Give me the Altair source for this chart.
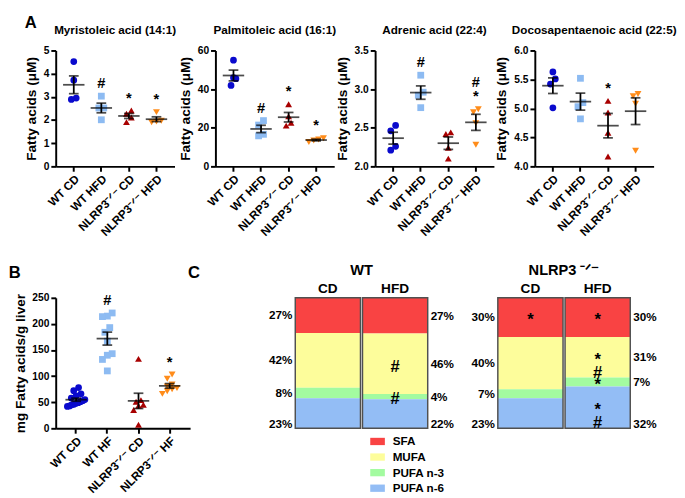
import altair as alt
import pandas as pd

SUP = "⁻ᐟ⁻"
groups_a = ["WT CD", "WT HFD", f"NLRP3{SUP} CD", f"NLRP3{SUP} HFD"]
groups_b = ["WT CD", "WT HF", f"NLRP3{SUP} CD", f"NLRP3{SUP} HF"]
group_colors = ["#0A0ACD", "#8DBBF2", "#A80000", "#FF8C1A"]
group_shapes = ["circle", "square", "triangle-up", "triangle-down"]
panel_letters = ["A", "B", "C"]

# Myristoleic acid (14:1)
myr_wt_cd = [4.52, 3.72, 2.95, 2.89]
myr_wt_hfd = [3.03, 2.52, 2.52, 2.01]
myr_ko_cd = [2.41, 2.27, 2.11, 1.91]
myr_ko_hfd = [2.34, 1.97, 1.93, 1.90]
myr_sig = ["", "#", "*", "*"]
myr_ticks = [0, 1, 2, 3, 4, 5]

# Palmitoleic acid (16:1)
pal_wt_cd = [55.0, 45.9, 45.4, 41.9]
pal_wt_hfd = [23.7, 21.4, 16.6, 15.8]
pal_ko_cd = [32.2, 25.9, 22.6, 21.1]
pal_ko_hfd = [14.6, 13.9, 13.4, 12.6]
pal_sig = ["", "#", "*", "*"]
pal_ticks = [0, 20, 40, 60]

# Adrenic acid (22:4)
adr_wt_cd = [2.53, 2.46, 2.26, 2.21]
adr_wt_hfd = [3.18, 2.96, 2.92, 2.76]
adr_ko_cd = [2.44, 2.42, 2.24, 2.10]
adr_ko_hfd = [2.74, 2.70, 2.56, 2.28]
adr_sig = ["", "#", "", "#\n*"]
adr_ticks = [2.0, 2.5, 3.0, 3.5]

# Docosapentaenoic acid (22:5)
dpa_wt_cd = [5.63, 5.51, 5.42, 5.01]
dpa_wt_hfd = [5.52, 5.10, 5.03, 4.82]
dpa_ko_cd = [5.13, 4.93, 4.58, 4.17]
dpa_ko_hfd = [5.25, 5.21, 5.08, 4.27]
dpa_sig = ["", "", "*", ""]
dpa_ticks = [4.0, 4.5, 5.0, 5.5, 6.0]

# B: mg fatty acids / g liver
liv_wt_cd = [78, 72, 66, 62, 58, 55, 53, 51, 49, 48, 46, 45, 43, 42]
liv_wt_hf = [221, 215, 214, 193, 184, 167, 143, 140, 132, 110]
liv_ko_cd = [133, 54, 51, 45, 43, 35, 7]
liv_ko_hf = [103, 95, 84, 80, 77, 75, 71, 66]
liv_sig = ["", "#", "", "*"]
liv_ticks = [0, 50, 100, 150, 200, 250]

# C: fatty acid composition (%)
fa_classes = ["SFA", "MUFA", "PUFA n-3", "PUFA n-6"]
fa_colors = ["#F94343", "#FDFD9B", "#A3FBA0", "#93BDF5"]
diets = ["CD", "HFD"]
wt_cd_pct = [27, 42, 8, 23]
wt_hfd_pct = [27, 46, 4, 22]
ko_cd_pct = [30, 40, 7, 23]
ko_hfd_pct = [30, 31, 7, 32]
wt_cd_sig = ["", "", "", ""]
wt_hfd_sig = ["", "#", "#", ""]
ko_cd_sig = ["*", "", "", ""]
ko_hfd_sig = ["*", "*\n#", "*", "*\n#"]

FONT = "Liberation Sans"


def swarm(values, ppu, row_px=7.0, step_px=5.0, max_half=9.0):
    """Spread points that would overlap (simple dot-plot layout)."""
    order = sorted(range(len(values)), key=lambda i: values[i])
    offs = [0.0] * len(values)
    rows, cur, start = [], [], None
    for i in order:
        p = values[i] * ppu
        if cur and p - start < row_px:
            cur.append(i)
        else:
            if cur:
                rows.append(cur)
            cur, start = [i], p
    if cur:
        rows.append(cur)
    for r in rows:
        n = len(r)
        step = step_px if n <= 1 else min(step_px, 2 * max_half / (n - 1))
        for k, i in enumerate(r):
            offs[i] = (k - (n - 1) / 2) * step
    return offs


def letter_layer(letter, x, y):
    return alt.Chart(pd.DataFrame({"t": [letter]})).mark_text(
        fontSize=17, fontWeight="bold", align="center", baseline="middle", color="black"
    ).encode(text="t:N", x=alt.value(x), y=alt.value(y))


def scatter_panel(title, groups, series, sig, ydom, yticks, yfmt, ytitle, w, h, letters=()):
    ppu = h / (ydom[1] - ydom[0])
    rows = []
    for gi, (g, vals, s) in enumerate(zip(groups, series, sig)):
        offs = swarm(vals, ppu)
        for v, o in zip(vals, offs):
            rows.append(dict(group=g, gid=gi, value=v, off=o, sig=s))
    df = pd.DataFrame(rows)
    po = 0.155
    step = w / (len(groups) + 2 * po)
    xaxis = alt.Axis(title=None, labelAngle=-45, labelFontSize=12, labelFontWeight="bold",
                     labelColor="black", domainWidth=2, domainColor="black", tickWidth=2,
                     tickColor="black", tickSize=5, labelPadding=2)
    xenc = alt.X("group:N", sort=groups, scale=alt.Scale(paddingInner=0, paddingOuter=po), axis=xaxis)
    yscale = alt.Scale(domain=ydom, nice=False, zero=False, padding=0)
    yaxis = alt.Axis(values=yticks, format=yfmt, title=ytitle, titleFontSize=14, titleFontWeight="bold",
                     titleColor="black", labelFontSize=10.5, labelFontWeight="bold", labelColor="black",
                     domainWidth=2, domainColor="black", tickWidth=2, tickColor="black", tickSize=5,
                     labelPadding=2, titlePadding=5, grid=False)

    def Y(field):
        return alt.Y(field, scale=yscale, axis=yaxis)

    base = alt.Chart(df)
    pts = base.mark_point(filled=True, opacity=1, strokeWidth=0).encode(
        x=xenc,
        xOffset=alt.XOffset("off:Q", scale=alt.Scale(domain=[-step / 2, step / 2])),
        y=Y("value:Q"),
        color=alt.Color("gid:N", scale=alt.Scale(domain=[0, 1, 2, 3], range=group_colors), legend=None),
        shape=alt.Shape("gid:N", scale=alt.Scale(domain=[0, 1, 2, 3], range=group_shapes), legend=None),
        size=alt.Size("gid:O", scale=alt.Scale(domain=[0, 1, 2, 3], range=[48, 50, 60, 60]), legend=None),
    )
    stats = base.transform_aggregate(
        m="mean(value)", se="stderr(value)", mx="max(value)", groupby=["group", "sig"]
    ).transform_calculate(
        lo="datum.m - datum.se", hi="datum.m + datum.se",
        s_lo="peek(split(datum.sig, '\\n'))",
        s_hi="length(split(datum.sig, '\\n')) > 1 ? split(datum.sig, '\\n')[0] : ''",
    )
    rule = stats.mark_rule(color="black", strokeWidth=1.8).encode(x=xenc, y=Y("lo:Q"), y2="hi:Q")
    lo_t = stats.mark_tick(color="black", thickness=1.8, size=10).encode(x=xenc, y=Y("lo:Q"))
    hi_t = stats.mark_tick(color="black", thickness=1.8, size=10).encode(x=xenc, y=Y("hi:Q"))
    mean_t = stats.mark_tick(color="black", thickness=1.8, size=22).encode(x=xenc, y=Y("m:Q"))
    sig_lo = stats.transform_filter("datum.s_lo != ''").mark_text(
        fontSize=15, fontWeight="bold", baseline="bottom", dy=-5, color="black"
    ).encode(x=xenc, y=Y("mx:Q"), text="s_lo:N")
    sig_hi = stats.transform_filter("datum.s_hi != ''").mark_text(
        fontSize=15, fontWeight="bold", baseline="bottom", dy=-20, color="black"
    ).encode(x=xenc, y=Y("mx:Q"), text="s_hi:N")
    layers = [pts, rule, lo_t, hi_t, mean_t, sig_lo, sig_hi]
    for lt in letters:
        layers.append(letter_layer(*lt))
    ch = alt.layer(*layers).properties(width=w, height=h)
    if title:
        ch = ch.properties(title=alt.TitleParams(title, fontSize=12, fontWeight="bold", color="black",
                                                 frame="group", offset=9))
    return ch


def fa_panel(title, pcts, sigs, w, h, legend):
    rows = []
    for diet, pc, sg in zip(diets, pcts, sigs):
        for k, (c, p, s) in enumerate(zip(fa_classes, pc, sg)):
            rows.append(dict(diet=diet, cls=c, ord=k, pct=p, sig=s, label=f"{p}%"))
    df = pd.DataFrame(rows)
    col_expr = "[" + ",".join(f"'{c}'" for c in fa_colors) + "][datum.ord]"
    base = alt.Chart(df).transform_stack(
        stack="pct", groupby=["diet"], as_=["y0", "y1"], offset="normalize",
        sort=[alt.SortField("ord", order="ascending")]
    ).transform_calculate(
        mid="(datum.y0 + datum.y1) / 2",
        laby="datum.ord == 3 ? datum.y1 - 0.03 : (datum.y0 + datum.y1) / 2",
        col=col_expr,
    )
    p_in = 0.03
    bandw = w / (len(diets) - p_in) * (1 - p_in)
    yscale = alt.Scale(domain=[0, 1], reverse=True, nice=False, zero=False, padding=0)
    xaxis = alt.Axis(orient="top", title=None, domain=False, ticks=False, labelAngle=0,
                     labelFontSize=14, labelFontWeight="bold", labelColor="black", labelPadding=2)
    xscale = alt.Scale(paddingInner=p_in, paddingOuter=0)

    def X(bp=None):
        if bp is None:
            return alt.X("diet:N", sort=diets, scale=xscale, axis=xaxis)
        return alt.X("diet:N", sort=diets, scale=xscale, axis=xaxis, bandPosition=bp)

    if legend is not None:
        fill = alt.Fill("cls:N", sort=fa_classes, scale=alt.Scale(domain=fa_classes, range=fa_colors),
                        legend=legend)
    else:
        fill = alt.Fill("col:N", scale=None)
    bars = base.mark_rect(strokeWidth=0, width=bandw).encode(
        x=X(), y=alt.Y("y0:Q", scale=yscale, axis=None), y2="y1:Q", fill=fill,
    )
    outline = base.transform_aggregate(lo="min(y0)", hi="max(y1)", groupby=["diet"]).mark_rect(
        fillOpacity=0, stroke="#505050", strokeWidth=1.5, width=bandw
    ).encode(x=X(), y=alt.Y("lo:Q", scale=yscale, axis=None), y2="hi:Q")
    lab_l = base.transform_filter("datum.diet == 'CD'").mark_text(
        align="right", baseline="middle", dx=-3, fontSize=12, fontWeight="bold", color="black"
    ).encode(x=X(0), y=alt.Y("laby:Q", scale=yscale, axis=None), text="label:N")
    lab_r = base.transform_filter("datum.diet == 'HFD'").mark_text(
        align="left", baseline="middle", dx=3, fontSize=12, fontWeight="bold", color="black"
    ).encode(x=X(1), y=alt.Y("laby:Q", scale=yscale, axis=None), text="label:N")
    sig_t = base.transform_filter("datum.sig != ''").mark_text(
        align="center", baseline="middle", fontSize=17, fontWeight="bold", lineBreak="\n",
        lineHeight=13, color="black", dy=3
    ).encode(x=X(0.5), y=alt.Y("mid:Q", scale=yscale, axis=None), text="sig:N")
    return alt.layer(bars, outline, lab_l, lab_r, sig_t).properties(
        width=w, height=h,
        title=alt.TitleParams(title, fontSize=15, fontWeight="bold", color="black", frame="group", offset=4),
    )


PW, PH = 122, 119
BW, BH = 138, 134
CW = 136
GAP_B_C, GAP_C = 108, 72

p1 = scatter_panel("Myristoleic acid (14:1)", groups_a, [myr_wt_cd, myr_wt_hfd, myr_ko_cd, myr_ko_hfd],
                   myr_sig, [0, 5], myr_ticks, "d", "Fatty acids (μM)", PW, PH)
p2 = scatter_panel("Palmitoleic acid (16:1)", groups_a, [pal_wt_cd, pal_wt_hfd, pal_ko_cd, pal_ko_hfd],
                   pal_sig, [0, 60], pal_ticks, "d", "Fatty acids (μM)", PW, PH)
p3 = scatter_panel("Adrenic acid (22:4)", groups_a, [adr_wt_cd, adr_wt_hfd, adr_ko_cd, adr_ko_hfd],
                   adr_sig, [2.0, 3.5], adr_ticks, ".1f", "Fatty acids (μM)", PW, PH)
p4 = scatter_panel("Docosapentaenoic acid (22:5)", groups_a, [dpa_wt_cd, dpa_wt_hfd, dpa_ko_cd, dpa_ko_hfd],
                   dpa_sig, [4.0, 6.0], dpa_ticks, ".1f", "Fatty acids (μM)", PW, PH)
pb = scatter_panel(None, groups_b, [liv_wt_cd, liv_wt_hf, liv_ko_cd, liv_ko_hf],
                   liv_sig, [0, 250], liv_ticks, "d", "mg Fatty acids/g liver", BW, BH,
                   letters=[(panel_letters[1], -42, -25), (panel_letters[2], BW + GAP_B_C - 104, -25)])

fa_legend = alt.Legend(title=None, orient="none", legendX=323, legendY=394, direction="vertical",
                       symbolType="M-1,-0.5H1V0.5H-1Z", symbolSize=225, symbolStrokeWidth=0,
                       symbolOpacity=1, labelFontSize=12, labelFontWeight="bold", labelColor="black",
                       labelOffset=8, rowPadding=2)
wt = fa_panel("WT", [wt_cd_pct, wt_hfd_pct], [wt_cd_sig, wt_hfd_sig], CW, BH, fa_legend)
ko = fa_panel(f"NLRP3 {SUP}", [ko_cd_pct, ko_hfd_pct], [ko_cd_sig, ko_hfd_sig], CW, BH, None)

top = alt.hconcat(p1, p2, p3, p4, spacing=42, bounds="flush").properties(
    title=alt.TitleParams(panel_letters[0], anchor="start", frame="bounds", fontSize=17,
                          fontWeight="bold", color="black", offset=-8)
).resolve_scale(xOffset="independent")
c_row = alt.hconcat(wt, ko, spacing=GAP_C, bounds="flush")
bottom = alt.hconcat(pb, c_row, spacing=GAP_B_C, bounds="flush").resolve_scale(xOffset="independent")

chart = alt.vconcat(top, bottom, spacing=27).resolve_scale(xOffset="independent").properties(
    padding={"left": 0, "top": 0, "right": 0, "bottom": 0}
).configure(font=FONT).configure_view(stroke=None).configure_axis(grid=False)

chart.save("out.html", embed_options={"renderer": "svg", "actions": False})
